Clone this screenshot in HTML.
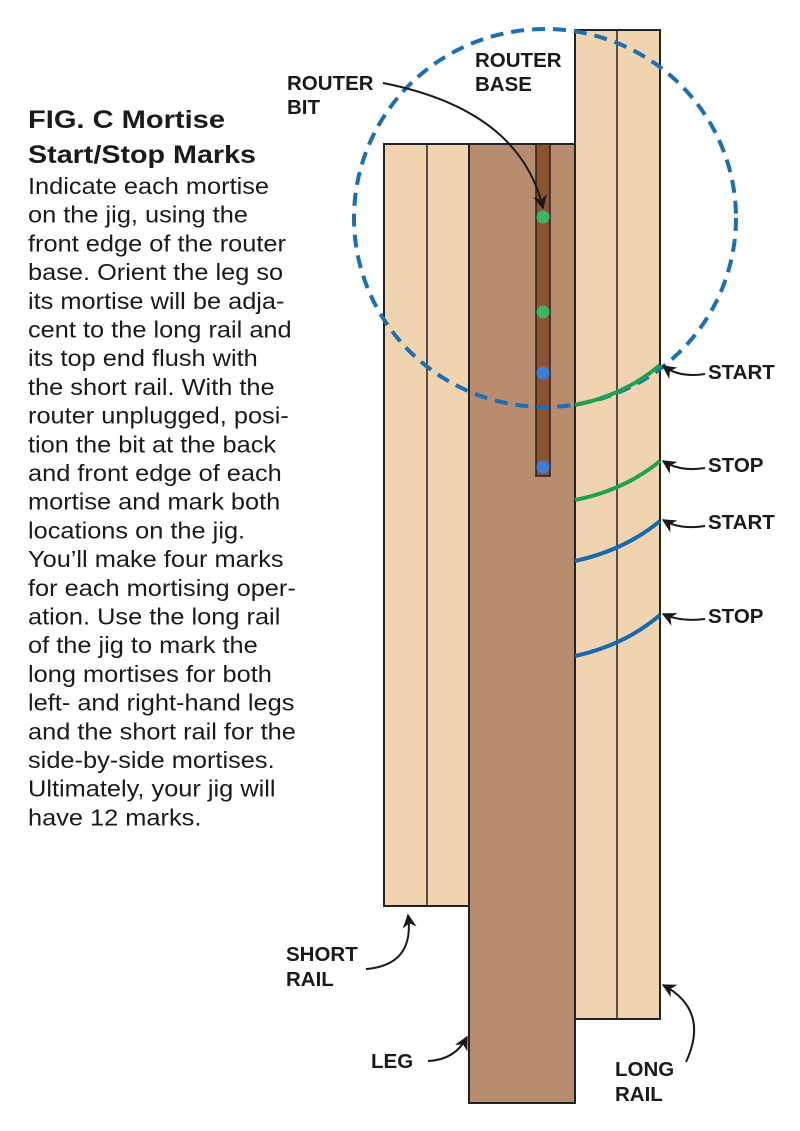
<!DOCTYPE html>
<html><head><style>
html,body{margin:0;padding:0;background:#fff;}
svg{display:block}
</style></head><body>
<svg width="800" height="1131" viewBox="0 0 800 1131" xmlns="http://www.w3.org/2000/svg">
<defs>
<marker id="ah" viewBox="0 0 10 10" refX="9" refY="5" markerWidth="7" markerHeight="7" orient="auto-start-reverse">
<path d="M0,0 L10,5 L0,10 L3,5 z" fill="#1a1a1a"/>
</marker>
</defs>
<rect x="575" y="30" width="85" height="989" fill="#f0d4b0" stroke="#222" stroke-width="2"/>
<line x1="617" y1="30" x2="617" y2="1019" stroke="#222" stroke-width="1.5"/>
<rect x="384" y="144" width="85" height="762" fill="#f0d4b0" stroke="#222" stroke-width="2"/>
<line x1="427" y1="144" x2="427" y2="906" stroke="#222" stroke-width="1.5"/>
<rect x="469" y="144" width="106" height="959" fill="#b88c6e" stroke="#222" stroke-width="2"/>
<rect x="536" y="144" width="14" height="332" fill="#8a5230" stroke="#222" stroke-width="1.5"/>
<circle cx="543" cy="217" r="6.5" fill="#3db567"/>
<circle cx="543" cy="312" r="6.5" fill="#3db567"/>
<circle cx="543" cy="373" r="6.5" fill="#3d7fd6"/>
<circle cx="543" cy="467" r="6.5" fill="#3d7fd6"/>
<ellipse cx="545" cy="218" rx="191" ry="189" fill="none" stroke="#1a6fb5" stroke-width="4" stroke-dasharray="13,8"/>
<path d="M575,405 Q625,395 660,365" fill="none" stroke="#1fa34a" stroke-width="4"/>
<path d="M575,500 Q625,490 660,461" fill="none" stroke="#1fa34a" stroke-width="4"/>
<path d="M575,561 Q625,550 660,521" fill="none" stroke="#1668b3" stroke-width="4"/>
<path d="M575,656 Q625,645 660,615" fill="none" stroke="#1668b3" stroke-width="4"/>
<g fill="none" stroke="#1a1a1a" stroke-width="2" marker-end="url(#ah)">
<path d="M383,83 Q520,110 543,208"/>
<path d="M705,374 Q680,378 663,366"/>
<path d="M705,468 Q680,472 663,461"/>
<path d="M705,526 Q680,530 663,520"/>
<path d="M705,619 Q680,622 663,614"/>
<path d="M366,969 Q415,965 408,915"/>
<path d="M428,1061 Q455,1060 467,1037"/>
<path d="M686,1062 Q710,1010 663,985"/>
</g>
<g font-family="Liberation Sans, sans-serif" font-weight="bold" font-size="20.5" fill="#1a1a1a">
<text x="287" y="90">ROUTER</text><text x="287" y="114">BIT</text>
<text x="475" y="67">ROUTER</text><text x="475" y="91">BASE</text>
<text x="708" y="379">START</text>
<text x="708" y="472">STOP</text>
<text x="708" y="529">START</text>
<text x="708" y="623">STOP</text>
<text x="286" y="961">SHORT</text><text x="286" y="986">RAIL</text>
<text x="371" y="1068">LEG</text>
<text x="615" y="1076">LONG</text><text x="615" y="1101">RAIL</text>
</g>
<g font-family="Liberation Sans, sans-serif" font-weight="bold" font-size="25" fill="#1a1a1a">
<text x="28" y="128" textLength="197" lengthAdjust="spacingAndGlyphs">FIG. C Mortise</text>
<text x="28" y="163" textLength="228" lengthAdjust="spacingAndGlyphs">Start/Stop Marks</text>
</g>
<g font-family="Liberation Sans, sans-serif" font-size="23.5" fill="#1a1a1a" transform="translate(28,0) scale(1.08,1)">
<text x="0" y="194">Indicate each mortise</text>
<text x="0" y="222.7">on the jig, using the</text>
<text x="0" y="251.4">front edge of the router</text>
<text x="0" y="280.1">base. Orient the leg so</text>
<text x="0" y="308.8">its mortise will be adja-</text>
<text x="0" y="337.5">cent to the long rail and</text>
<text x="0" y="366.2">its top end flush with</text>
<text x="0" y="394.9">the short rail. With the</text>
<text x="0" y="423.6">router unplugged, posi-</text>
<text x="0" y="452.3">tion the bit at the back</text>
<text x="0" y="481">and front edge of each</text>
<text x="0" y="509.7">mortise and mark both</text>
<text x="0" y="538.4">locations on the jig.</text>
<text x="0" y="567.1">You’ll make four marks</text>
<text x="0" y="595.8">for each mortising oper-</text>
<text x="0" y="624.5">ation. Use the long rail</text>
<text x="0" y="653.2">of the jig to mark the</text>
<text x="0" y="681.9">long mortises for both</text>
<text x="0" y="710.6">left- and right-hand legs</text>
<text x="0" y="739.3">and the short rail for the</text>
<text x="0" y="768">side-by-side mortises.</text>
<text x="0" y="796.7">Ultimately, your jig will</text>
<text x="0" y="825.4">have 12 marks.</text>
</g>
</svg>
</body></html>
